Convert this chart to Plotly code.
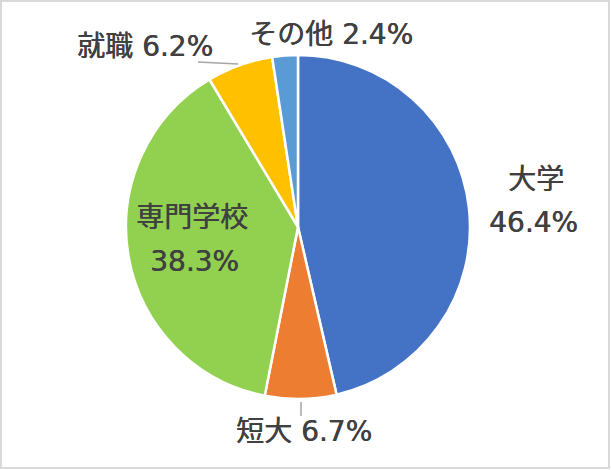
import plotly.graph_objects as go

categories = ["大学", "短大", "専門学校", "就職", "その他"]
values = [46.4, 6.7, 38.3, 6.2, 2.4]
colors = ["#4472C4", "#ED7D31", "#92D050", "#FFC000", "#5B9BD5"]

W, H = 611, 470
cx, cy, r = 298, 227, 172

fig = go.Figure(go.Pie(
    labels=categories,
    values=values,
    sort=False,
    direction="clockwise",
    rotation=0,
    textinfo="none",
    hoverinfo="label+percent",
    marker=dict(colors=colors, line=dict(color="white", width=2.5)),
    domain=dict(x=[(cx - r) / W, (cx + r) / W], y=[1 - (cy + r) / H, 1 - (cy - r) / H]),
    showlegend=False,
))

FONT = dict(family="DejaVu Sans, Noto Sans CJK JP, sans-serif", size=28, color="#404040",
            shadow="0.5px 0 0 #404040")

def fmt(v):
    return f"{v:.1f}%"

# label placements (pixel centers): (category index, x, y, text)
placements = [
    (0, 536, 179, lambda i: categories[i]),
    (0, 533, 223, lambda i: fmt(values[i])),
    (2, 192, 217, lambda i: categories[i]),
    (2, 194, 261, lambda i: fmt(values[i])),
    (3, 145, 46, lambda i: f"{categories[i]} {fmt(values[i])}"),
    (4, 331, 34, lambda i: f"{categories[i]} {fmt(values[i])}"),
    (1, 304, 431, lambda i: f"{categories[i]} {fmt(values[i])}"),
]
for i, x, y, f in placements:
    fig.add_annotation(x=x / W, y=1 - y / H, xref="paper", yref="paper",
                       text=f(i), showarrow=False, font=FONT,
                       xanchor="center", yanchor="middle")

# leader lines
leaders = [((198, 62), (238, 64)), ((301, 402), (301, 416))]
for (x0, y0), (x1, y1) in leaders:
    fig.add_shape(type="line", xref="paper", yref="paper",
                  x0=x0 / W, y0=1 - y0 / H, x1=x1 / W, y1=1 - y1 / H,
                  line=dict(color="#A6A6A6", width=1.5))

# chart border
fig.add_shape(type="rect", xref="paper", yref="paper",
              x0=1 / W, y0=1 - 468 / H, x1=609 / W, y1=1 - 1 / H,
              line=dict(color="#D9D9D9", width=2), fillcolor="rgba(0,0,0,0)")

fig.update_layout(
    width=W, height=H,
    margin=dict(l=0, r=0, t=0, b=0),
    paper_bgcolor="white",
    plot_bgcolor="white",
)

fig.write_html(
    "out.html",
    config={"displayModeBar": False},
    post_script="document.body.style.margin='0';document.body.style.overflow='hidden';",
)
